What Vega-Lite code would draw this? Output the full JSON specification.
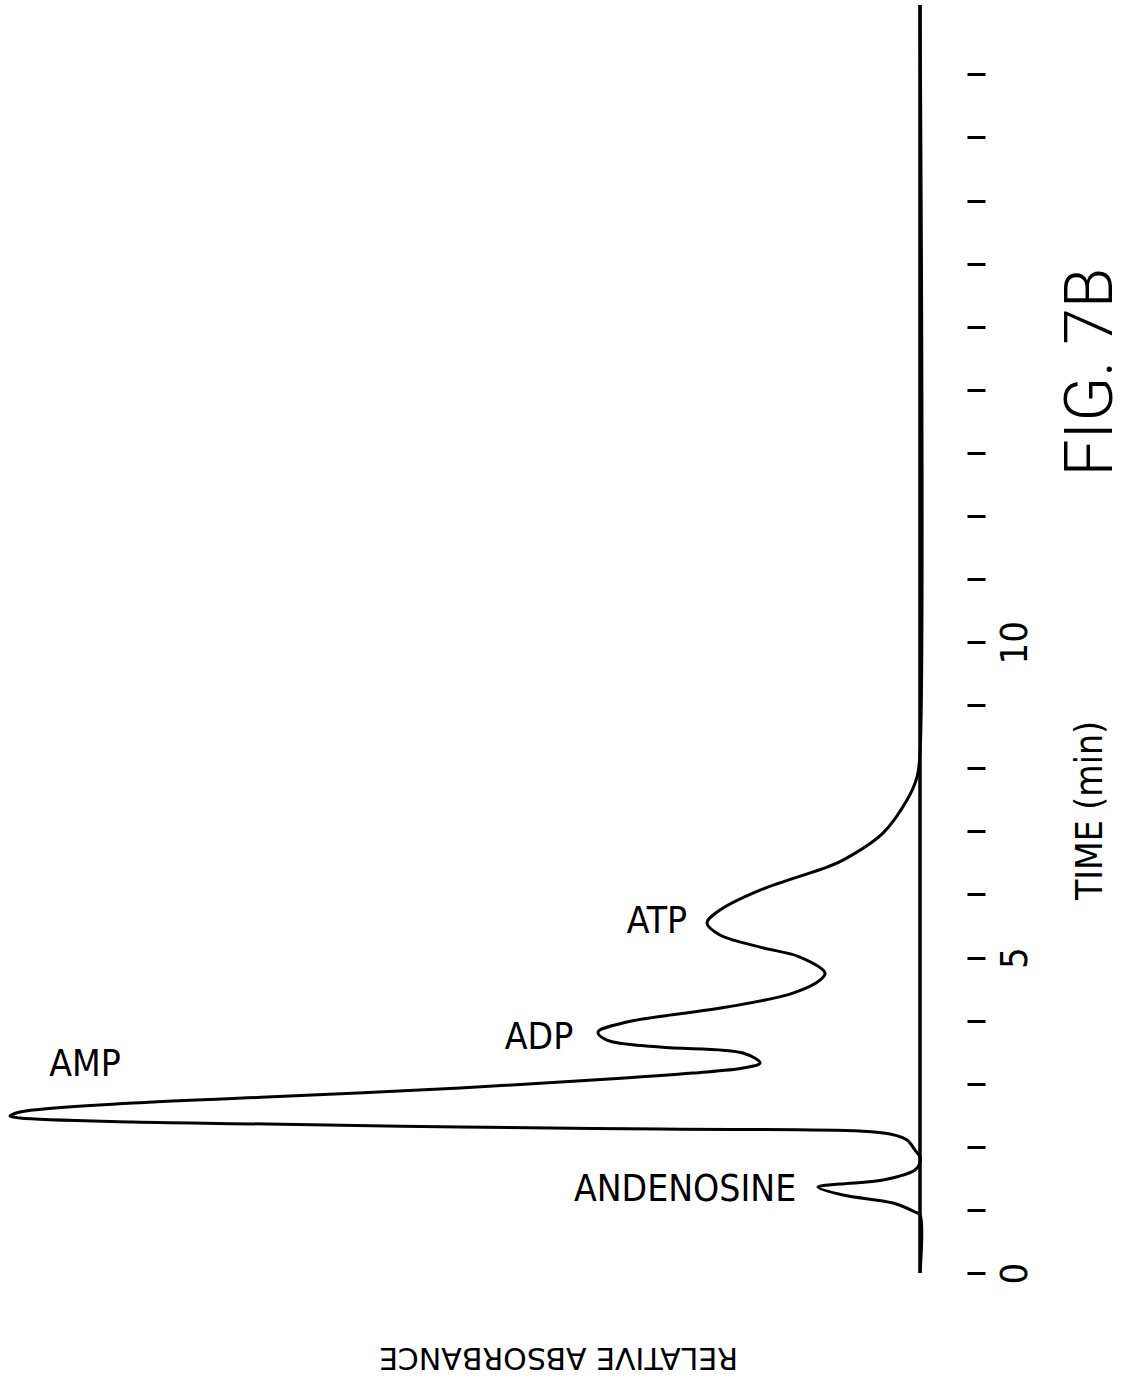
{
  "$schema": "https://vega.github.io/schema/vega-lite/v6.json",
  "autosize": "none",
  "width": 910,
  "height": 1268,
  "padding": {"left": 10, "top": 5, "right": 209, "bottom": 112},
  "background": "white",
  "config": {"view": {"stroke": null}},
  "datasets": {
    "base": [
      {"abs": 0, "t0": 0, "t1": 20.1}
    ],
    "trace": [
      {"t": 0.0, "abs": 0},
      {"t": 0.919, "abs": 0},
      {"t": 0.967, "abs": 0.55},
      {"t": 1.109, "abs": 2.97},
      {"t": 1.236, "abs": 8.46},
      {"t": 1.363, "abs": 11.21},
      {"t": 1.41, "abs": 8.79},
      {"t": 1.474, "abs": 4.07},
      {"t": 1.632, "abs": 0.55},
      {"t": 1.75, "abs": 0},
      {"t": 1.838, "abs": 0},
      {"t": 1.949, "abs": 0.55},
      {"t": 2.108, "abs": 1.43},
      {"t": 2.203, "abs": 3.3},
      {"t": 2.25, "abs": 6.59},
      {"t": 2.282, "abs": 28.57},
      {"t": 2.314, "abs": 50.55},
      {"t": 2.361, "abs": 71.76},
      {"t": 2.393, "abs": 86.48},
      {"t": 2.456, "abs": 98.9},
      {"t": 2.488, "abs": 100},
      {"t": 2.552, "abs": 98.9},
      {"t": 2.694, "abs": 86.48},
      {"t": 2.789, "abs": 71.76},
      {"t": 2.932, "abs": 50.55},
      {"t": 3.059, "abs": 35.93},
      {"t": 3.17, "abs": 24.95},
      {"t": 3.249, "abs": 19.45},
      {"t": 3.328, "abs": 17.58},
      {"t": 3.487, "abs": 19.45},
      {"t": 3.582, "abs": 28.57},
      {"t": 3.693, "abs": 34.4},
      {"t": 3.819, "abs": 35.38},
      {"t": 3.978, "abs": 32.2},
      {"t": 4.216, "abs": 21.21},
      {"t": 4.437, "abs": 13.96},
      {"t": 4.643, "abs": 10.99},
      {"t": 4.754, "abs": 10.44},
      {"t": 5.008, "abs": 13.19},
      {"t": 5.166, "abs": 17.58},
      {"t": 5.357, "abs": 21.98},
      {"t": 5.547, "abs": 23.41},
      {"t": 5.753, "abs": 21.98},
      {"t": 6.07, "abs": 17.58},
      {"t": 6.434, "abs": 10.22},
      {"t": 6.545, "abs": 8.46},
      {"t": 6.973, "abs": 4.07},
      {"t": 7.496, "abs": 1.43},
      {"t": 7.861, "abs": 0.33},
      {"t": 8.241, "abs": 0},
      {"t": 20.1, "abs": 0}
    ],
    "peaks": [
      {"label": "AMP", "t": 3.296, "abs": 91.76},
      {"label": "ADP", "t": 3.724, "abs": 41.87},
      {"label": "ATP", "t": 5.563, "abs": 28.9},
      {"label": "ANDENOSINE", "t": 1.315, "abs": 25.82}
    ],
    "fig": [
      {"label": "FIG. 7B", "t": 14.28, "abs": -18.9}
    ]
  },
  "layer": [
    {
      "data": {"name": "base"},
      "mark": {"type": "rule", "color": "black", "strokeWidth": 3.5},
      "encoding": {
        "x": {"field": "abs", "type": "quantitative"},
        "y": {"field": "t0", "type": "quantitative"},
        "y2": {"field": "t1"}
      }
    },
    {
      "data": {"name": "trace"},
      "mark": {"type": "line", "color": "black", "strokeWidth": 3, "interpolate": "catmull-rom"},
      "encoding": {
        "x": {
          "field": "abs",
          "type": "quantitative",
          "scale": {"domain": [0, 100], "reverse": true, "nice": false, "zero": false},
          "axis": {
            "title": "RELATIVE  ABSORBANCE",
            "domain": false,
            "ticks": false,
            "labels": false,
            "grid": false,
            "titleAngle": 180,
            "titleX": 548,
            "titleY": 83,
            "titleAlign": "center",
            "titleBaseline": "middle",
            "titleFont": "DejaVu Sans",
            "titleFontSize": 30,
            "titleFontWeight": "normal",
            "titleColor": "black"
          }
        },
        "y": {
          "field": "t",
          "type": "quantitative",
          "scale": {"domain": [0, 20.1], "nice": false, "zero": false},
          "axis": {
            "orient": "right",
            "offset": 47,
            "domain": false,
            "grid": false,
            "values": [0,1,2,3,4,5,6,7,8,9,10,11,12,13,14,15,16,17,18,19],
            "format": "d",
            "tickSize": 18,
            "tickWidth": 3,
            "tickColor": "black",
            "labelExpr": "datum.value == 0 || datum.value == 5 || datum.value == 10 ? datum.label : ''",
            "labelAngle": -90,
            "labelAlign": "center",
            "labelBaseline": "top",
            "labelPadding": 11,
            "labelFont": "DejaVu Sans Condensed, Liberation Sans Narrow, DejaVu Sans",
            "labelFontSize": 38,
            "labelColor": "black",
            "labelOverlap": false,
            "labelBound": false,
            "labelFlush": false,
            "title": "TIME (min)",
            "titleAngle": -90,
            "titleX": 123,
            "titleY": 805,
            "titleAlign": "center",
            "titleBaseline": "middle",
            "titleFont": "DejaVu Sans Condensed, DejaVu Sans",
            "titleFontSize": 37,
            "titleFontWeight": "normal",
            "titleColor": "black"
          }
        },
        "order": {"field": "t", "type": "quantitative"}
      }
    },
    {
      "data": {"name": "peaks"},
      "mark": {"type": "text", "align": "center", "baseline": "middle", "font": "DejaVu Sans Condensed, Liberation Sans Narrow, DejaVu Sans", "fontSize": 37, "color": "black"},
      "encoding": {
        "x": {"field": "abs", "type": "quantitative"},
        "y": {"field": "t", "type": "quantitative"},
        "text": {"field": "label"}
      }
    },
    {
      "data": {"name": "fig"},
      "mark": {"type": "text", "align": "center", "baseline": "middle", "angle": 270, "font": "Roboto", "fontWeight": 300, "fontSize": 66, "color": "black"},
      "encoding": {
        "x": {"field": "abs", "type": "quantitative"},
        "y": {"field": "t", "type": "quantitative"},
        "text": {"field": "label"}
      }
    }
  ]
}
